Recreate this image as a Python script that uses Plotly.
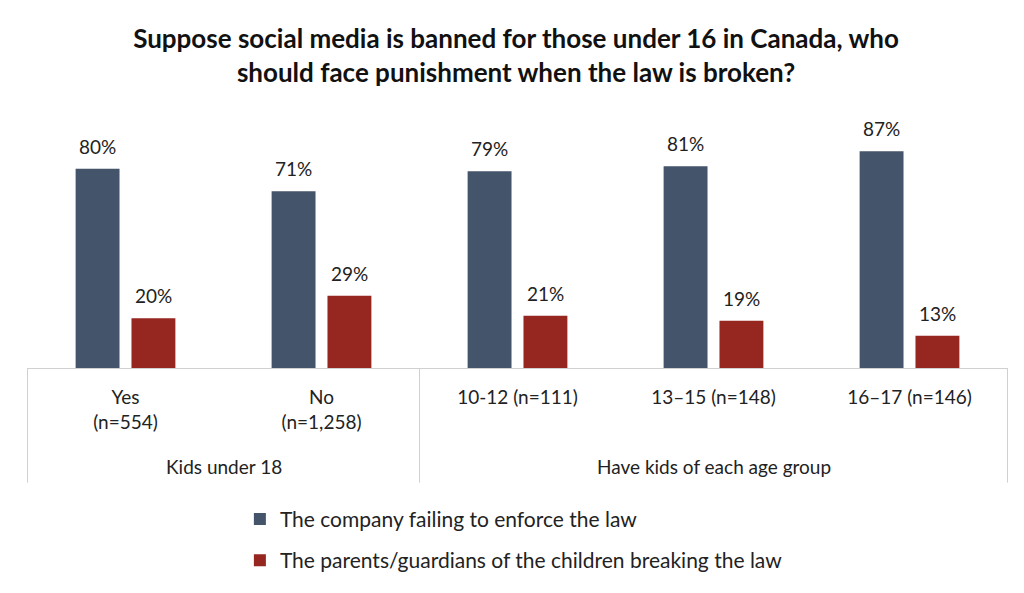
import plotly.graph_objects as go

# categories along the x axis
categories = ["Yes<br>(n=554)", "No<br>(n=1,258)", "10-12 (n=111)", "13–15 (n=148)", "16–17 (n=146)"]
group_labels = ["Kids under 18", "Have kids of each age group"]
group_spans = [(0, 1), (2, 4)]

series_names = ["The company failing to enforce the law",
                "The parents/guardians of the children breaking the law"]
company = [80, 71, 79, 81, 87]
parents = [20, 29, 21, 19, 13]

BLUE = "#44546A"
RED = "#952620"
FONT = "Lato, Open Sans, sans-serif"

fig = go.Figure()
for name, vals, col, grp in [(series_names[0], company, BLUE, "a"),
                             (series_names[1], parents, RED, "b")]:
    fig.add_trace(go.Bar(
        x=categories, y=vals, name=name, legendgroup=grp,
        marker=dict(color=col, line=dict(width=0)),
    ))

# value labels above the bars (offset left/right for the two series)
for vals, shift in [(company, -28), (parents, 28)]:
    for cat, v in zip(categories, vals):
        fig.add_annotation(x=cat, y=v, xref="x", yref="y", text=f"{v}%",
                           showarrow=False, yanchor="bottom", xshift=shift,
                           yshift=9, font=dict(size=19, color="#222222", family=FONT))

# box lines around the category labels (left edge, group divider, right edge)
for xpos in [-0.5, 1.5, 4.5]:
    fig.add_shape(type="line", xref="x", yref="paper", x0=xpos, x1=xpos,
                  y0=0, y1=-0.46, line=dict(color="#d0d0d0", width=1))

# group labels
for label, (a, b) in zip(group_labels, group_spans):
    fig.add_annotation(x=(a + b) / 2, xref="x", y=-0.395, yref="paper",
                       text=label, showarrow=False, yanchor="middle",
                       font=dict(size=19, color="#222222", family=FONT))

# page body has an 8px margin, so the figure is 8px smaller than the window
fig.update_layout(
    width=1016, height=585,
    margin=dict(l=19, r=16, t=111, b=225),
    paper_bgcolor="white", plot_bgcolor="white",
    font=dict(family=FONT, size=19, color="#222222"),
    title=dict(
        text="<b>Suppose social media is banned for those under 16 in Canada, who<br>should face punishment when the law is broken?</b>",
        x=0.5, xanchor="center", y=0.932, yanchor="top",
        font=dict(size=26, color="#111111", family=FONT),
    ),
    barmode="group", bargap=0.43, bargroupgap=0.214,
    showlegend=True,
    legend=dict(x=0.217, xanchor="left", y=-0.525, yanchor="top",
                orientation="v", tracegroupgap=11,
                font=dict(size=21, color="#222222", family=FONT),
                itemwidth=30),
    xaxis=dict(showline=True, linecolor="#d0d0d0", linewidth=1,
               ticks="", ticklabelstandoff=12, tickfont=dict(size=19),
               showgrid=False),
    yaxis=dict(range=[0, 100], visible=False, showgrid=False),
)

fig.write_html("out.html")
